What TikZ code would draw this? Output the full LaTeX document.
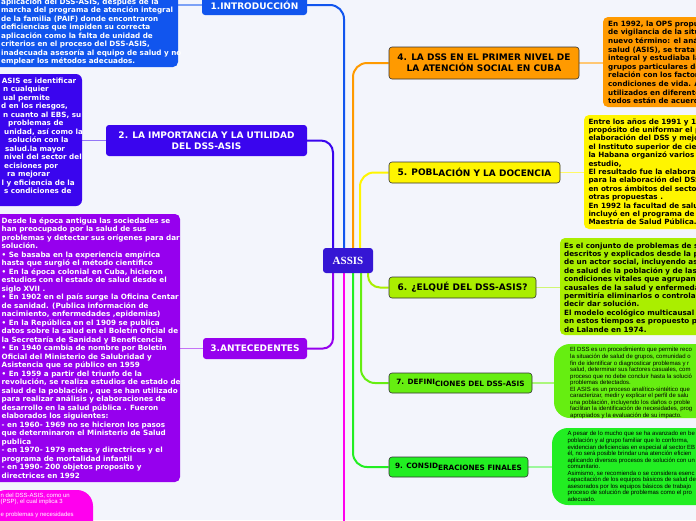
\documentclass[tikz,border=0pt]{standalone}
\usepackage{fontspec}
\setmainfont{DejaVu Sans}
\newfontfamily\smallfont{Liberation Sans}
\newfontfamily\seriffont{Liberation Serif}
\usetikzlibrary{backgrounds}
\definecolor{bg}{HTML}{F3F5FC}
\definecolor{cintro}{HTML}{1155EE}
\definecolor{cimp}{HTML}{3A05EE}
\definecolor{cassis}{HTML}{3516D4}
\definecolor{cant}{HTML}{9600EE}
\definecolor{cmag}{HTML}{FF00EE}
\definecolor{corg}{HTML}{FF9A00}
\definecolor{cyel}{HTML}{FFF500}
\definecolor{csix}{HTML}{AAEE00}
\definecolor{cseven}{HTML}{66EE11}
\definecolor{cnine}{HTML}{22EE22}
\begin{document}
\begin{tikzpicture}[x=1pt,y=-1pt,
  tbox/.style={inner sep=0pt, rounded corners=5pt},
  lbox/.style={inner sep=0pt, rounded corners=3pt, align=center,
    font=\bfseries\fontsize{9}{11}\selectfont},
  rbox/.style={lbox, draw=black!80, line width=0.6pt, text=black},
  sbox/.style={rbox, font=\bfseries\fontsize{7.3}{9}\selectfont},
  body/.style={anchor=north west, inner sep=0pt, align=left,
    font=\bfseries\fontsize{7.2}{8.5}\selectfont},
  smalltext/.style={anchor=north west, inner sep=0pt, align=left,
    font=\smallfont\fontsize{6}{6.55}\selectfont},
  conn/.style={line width=2pt},
  leaf/.style={line width=1.5pt}]
\useasboundingbox (0,0) rectangle (696,520);

% ---------- text boxes ----------
\node[tbox, fill=cintro, minimum width=188pt, minimum height=97pt] (t1) at (84,18.5) {};
\node[body, text=white] (x1) at (1,-2.1) {\strut aplicación del DSS-ASIS, después de la\\
marcha del programa de atención integral\\
de la familia (PAIF) donde encontraron\\
deficiencias que impiden su correcta\\
aplicación como la falta de unidad de\\
criterios en el proceso del DSS-ASIS,\\
inadecuada asesoría al equipo de salud y no\\
emplear los métodos adecuados.};

\node[tbox, fill=cimp, minimum width=92pt, minimum height=132pt, rounded corners=6pt] (t2) at (36,140) {};
\node[body, text=white] (x2) at (0,76.9) {\strut\hspace*{1.7pt}ASIS es identificar\\
\hspace*{3pt}n cualquier\\
\hspace*{3pt}ual permite\\
\hspace*{1pt}d en los riesgos,\\
\hspace*{3pt}n cuanto al EBS, su\\
\hspace*{8pt}problemas de\\
\hspace*{4pt}unidad, así como la\\
\hspace*{8pt}solución con la\\
\hspace*{5pt}salud.la mayor\\
\hspace*{4pt}nivel del sector del\\
\hspace*{4pt}ecisiones por\\
\hspace*{7pt}ra mejorar\\
\hspace*{1.5pt}l y eficiencia de la\\
\hspace*{4pt}s condiciones de};

\node[tbox, fill=cant, minimum width=190pt, minimum height=268pt] (t3) at (85,348) {};
\node[body, text=white] (x3) at (1.5,216.9) {\strut Desde la época antigua las sociedades se\\
han preocupado por la salud de sus\\
problemas y detectar sus orígenes para dar\\
solución.\\
• Se basaba en la experiencia empírica\\
hasta que surgió el método cientifico\\
• En la época colonial en Cuba, hicieron\\
estudios con el estado de salud desde el\\
siglo XVII .\\
• En 1902 en el país surge la Oficina Centar\\
de sanidad. (Publica información de\\
nacimiento, enfermedades ,epidemias)\\
• En la República en el 1909 se publica\\
datos sobre la salud en el Boletín Oficial de\\
la Secretaría de Sanidad y Beneficencia\\
• En 1940 cambia de nombre por Boletín\\
Oficial del Ministerio de Salubridad y\\
Asistencia que se público en 1959\\
• En 1959 a partir del triunfo de la\\
revolución, se realiza estudios de estado de\\
salud de la población , que se han utilizado\\
para realizar análisis y elaboraciones de\\
desarrollo en la salud pública . Fueron\\
elaborados los siguientes:\\
- en 1960- 1969 no se hicieron los pasos\\
que determinaron el Ministerio de Salud\\
publica\\
- en 1970- 1979 metas y directrices y el\\
programa de mortalidad infantil\\
- en 1990- 200 objetos proposito y\\
directrices en 1992};

\node[tbox, fill=cmag, minimum width=103pt, minimum height=60pt, rounded corners=16pt] (tm) at (41.5,520) {};
\node[smalltext, text=white] (xm) at (0.5,492.5) {\strut n del DSS-ASIS, como un\\
(PSP), el cual implica 3\\[6.55pt]
e problemas y necesidades};

\node[tbox, fill=corg, minimum width=117pt, minimum height=90pt] (t4) at (661.5,62) {};
\node[body, text=black, font=\bfseries\fontsize{7.2}{8.6}\selectfont] (x4) at (608,20.1) {\strut En 1992, la OPS propu\\
de vigilancia de la situ\\
nuevo término: el anál\\
salud (ASIS),  se trata\\
integral y estudiaba las\\
grupos particulares de\\
relación con los factore\\
condiciones de vida. An\\
utilizados en diferente\\
todos están de acuerd};

\node[tbox, fill=cyel, minimum width=136pt, minimum height=114pt] (t5) at (652,172) {};
\node[body, text=black, font=\bfseries\fontsize{7.2}{8.4}\selectfont] (x5) at (588.3,118) {\strut Entre los años de 1991 y 19\\
propósito de uniformar el p\\
elaboración del DSS y mejor\\
el Instituto superior de cien\\
la Habana organizó varios t\\
estudio,\\
El resultado fue la elaboraci\\
para la elaboración del DSS\\
en otros ámbitos del sector\\
otras propuestas .\\
En 1992 la facultad de salud\\
incluyó en el programa de e\\
Maestría de Salud Pública.};

\node[tbox, fill=csix, minimum width=160pt, minimum height=97pt] (t6) at (640,286.5) {};
\node[body, text=black, font=\bfseries\fontsize{7.2}{8.4}\selectfont] (x6) at (564,242) {\strut Es el conjunto de problemas de sa\\
descritos y explicados desde la pe\\
de un actor social, incluyendo así\\
de salud de la población y de las\\
condiciones vitales que agrupan f\\
causales de la salud y enfermedad\\
permitiría eliminarlos o controlarl\\
decir dar solución.\\
El modelo ecológico multicausal a\\
en estos tiempos es propuesto po\\
de Lalande en 1974.};

\node[tbox, fill=cseven, minimum width=166pt, minimum height=74pt, rounded corners=16pt] (t7) at (637,381) {};
\node[smalltext, text=black] (x7) at (570,347.2) {\strut El DSS es un procedimiento que permite reco\\
la situación de salud de grupos, comunidad o\\
fin de identificar o diagnosticar problemas y r\\
salud, determinar sus factores casuales, com\\
proceso que no debe concluir hasta la solució\\
problemas detectados.\\
El ASIS es un proceso analítico-sintético que\\
caracterizar, medir y explicar el perfil de salu\\
una población, incluyendo los daños o proble\\
facilitan la identificación de necesidades, prog\\
apropiados y la evaluación de su impacto.};

\node[tbox, fill=cnine, minimum width=168pt, minimum height=77pt, rounded corners=16pt] (t9) at (636,466.5) {};
\node[smalltext, text=black] (x9) at (567.3,431.2) {\strut A pesar de lo mucho que se ha avanzado en be\\
población y al grupo familiar que lo conforma,\\
evidencian deficiencias en especial al sector EB\\
él, no será posible brindar una atención eficien\\
aplicando diversos procesos de solución con un\\
comunitario.\\
Asimismo, se recomienda o se considera esenc\\
capacitación de los equipos básicos de salud de\\
asesorados por los equipos básicos de trabajo\\
proceso de solución de problemas como el pro\\
adecuado.};

% ---------- labels ----------
\node[lbox, fill=cintro, text=white, minimum width=105pt, minimum height=20pt] (l1) at (254.5,5) {1.INTRODUCCIÓN};
\node[lbox, fill=cimp, text=white, minimum width=201pt, minimum height=31pt] (l2) at (206.5,140.5) {2. LA IMPORTANCIA Y LA UTILIDAD\\DEL DSS-ASIS};
\node[lbox, fill=cant, text=white, minimum width=104pt, minimum height=21pt] (l3) at (255,348.5) {3.ANTECEDENTES};
\node[rbox, fill=corg, minimum width=190pt, minimum height=32pt] (l4) at (484,63) {4. LA DSS EN EL PRIMER NIVEL DE\\LA ATENCIÓN SOCIAL EN CUBA};
\node[rbox, fill=cyel, minimum width=171pt, minimum height=21pt] (l5) at (474.5,172.5) {\raisebox{1pt}{5. POBL}ACIÓN Y LA DOCENCIA};
\node[rbox, fill=csix, minimum width=147pt, minimum height=21pt] (l6) at (462.5,287.5) {6. ¿ELQUÉ DEL DSS-ASIS?};
\node[sbox, fill=cseven, minimum width=143pt, minimum height=20pt] (l7) at (460.5,383) {\raisebox{1.5pt}{7. DEFINI}CIONES DEL DSS-ASIS};
\node[sbox, fill=cnine, minimum width=139pt, minimum height=20pt] (l9) at (458.5,467) {\raisebox{1.5pt}{9. CONSID}ERACIONES FINALES};

\node[inner sep=0pt, fill=cassis, rounded corners=3pt, minimum width=50pt, minimum height=25pt, text=white,
  font=\seriffont\bfseries\fontsize{11}{13}\selectfont] (assis) at (348,260.5) {ASSIS};
\coordinate (mend) at (344,530);

% ---------- connectors ----------
\begin{scope}[on background layer]
\fill[bg] (0,0) rectangle (696,520);
\draw[conn, cintro, rounded corners=14pt] ([xshift=-4pt]assis.north) |- (l1.east);
\draw[conn, cimp, rounded corners=12pt] ([xshift=-15pt]assis.north) |- (l2.east);
\draw[conn, corg, rounded corners=14pt] ([xshift=5pt]assis.north) |- (l4.west);
\draw[conn, cyel, rounded corners=14pt] ([xshift=12pt]assis.north) |- (l5.west);
\draw[conn, cant, rounded corners=10pt] ([xshift=-15pt]assis.south) |- (l3.east);
\draw[conn, cmag] (assis.south -| mend) -- (mend);
\draw[conn, cnine, rounded corners=14pt] ([xshift=5pt]assis.south) |- (l9.west);
\draw[conn, cseven, rounded corners=14pt] ([xshift=13pt]assis.south) |- (l7.west);
\draw[conn, csix, rounded corners=12pt] ([xshift=20pt]assis.south) |- (l6.west);
\draw[leaf, cintro!55] (l1.west) -- (l1.west -| t1.east);
\draw[leaf, cimp!55] (l2.west) -- (l2.west -| t2.east);
\draw[leaf, cant!55] (l3.west) -- (l3.west -| t3.east);
\draw[leaf, corg!55] (l4.east) -- (l4.east -| t4.west);
\draw[leaf, cyel!60] (l5.east) -- (l5.east -| t5.west);
\draw[leaf, csix!55] (l6.east) -- (l6.east -| t6.west);
\draw[leaf, cseven!55] (l7.east) -- (l7.east -| t7.west);
\draw[leaf, cnine!45] (l9.east) -- (l9.east -| t9.west);
\end{scope}
\end{tikzpicture}
\end{document}
